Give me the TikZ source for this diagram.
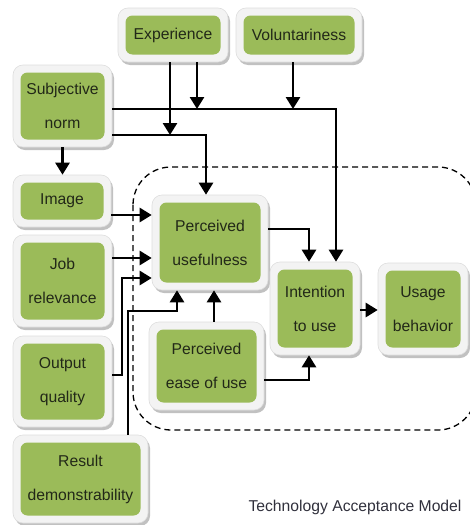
\documentclass[tikz,border=0pt]{standalone}
\usepackage{fontspec}
\setmainfont{Liberation Sans}
\usetikzlibrary{arrows.meta,shadows}
\definecolor{tamgreen}{HTML}{9BBB59}
\definecolor{tamframe}{HTML}{F3F3F3}
\definecolor{tamframeline}{HTML}{DDDDDD}
\definecolor{tamtext}{HTML}{222818}
\definecolor{tamcap}{HTML}{30303C}
\tikzset{
  tamouter/.style={fill=tamframe, draw=tamframeline, line width=0.6pt, rounded corners=10pt,
    inner sep=0pt, drop shadow={shadow xshift=2pt, shadow yshift=-3pt, fill=black!35, opacity=0.7}},
  tamin/.style={fill=tamgreen, rounded corners=7pt, inner sep=0pt, align=center,
    text=tamtext, font=\fontsize{15.7}{34}\selectfont},
  arr/.style={line width=2.7pt, -{Triangle[length=12pt,width=14pt]}},
  dashbox/.style={line width=1.3pt, dash pattern=on 6pt off 4pt, rounded corners=38pt},
}
\newcommand\tambox[6]{%
  \node[tamouter, minimum width=#4pt, minimum height=#5pt] (#1) at (#2,#3) {};
  \pgfmathsetmacro\tamiw{#4-15}\pgfmathsetmacro\tamih{#5-15}%
  \node[tamin, minimum width=\tamiw pt, minimum height=\tamih pt] (#1-in) at (#1) {#6};
}
\begin{document}
\begin{tikzpicture}[x=1pt,y=-1pt]
\useasboundingbox (0,0) rectangle (469,525);
\draw[dashbox] (133,167) rectangle (476,430);
\tambox{exp}{173}{35}{110}{54}{Experience}
\tambox{vol}{299}{35}{126}{54}{Voluntariness}
\tambox{sn}{62.5}{106}{99}{82}{Subjective\\norm}
\tambox{img}{62}{201}{98}{52}{Image}
\tambox{job}{62.5}{281}{99}{92}{Job\\relevance}
\tambox{oq}{62.5}{381.5}{99}{91}{Output\\quality}
\tambox{rd}{80.5}{479}{135}{88}{Result\\demonstrability}
\tambox{pu}{210}{242.5}{116}{95}{Perceived\\usefulness}
\tambox{peou}{206.5}{366}{115}{88}{Perceived\\ease of use}
\tambox{itu}{315}{308.5}{90}{93}{Intention\\to use}
\tambox{ub}{423}{309}{90}{92}{Usage\\behavior}
\node[text=tamcap, font=\fontsize{15.7}{18}\selectfont] (cap) at (355,507) {Technology Acceptance Model};
% junctions
\coordinate (jA) at (170,135);
\coordinate (jB) at (197,109);
\coordinate (jC) at (293,109);
\coordinate (k1) at (336,109);
\coordinate (k2) at (206,135);
\coordinate (m1) at (0,215);
\coordinate (m2) at (0,258);
\coordinate (m3) at (0,278);
\coordinate (oqa) at (122,375);
\coordinate (rda) at (128,311);
\coordinate (rdb) at (177,311);
\coordinate (pe) at (214,0);
\coordinate (pa) at (309,229);
\coordinate (pb) at (309,380);
\coordinate (ia) at (0,310);
% connectors
\draw[arr] (sn.east |- k1) -- (k1) -- (itu.north -| k1);
\draw[arr] (sn.east |- k2) -- (k2) -- (pu.north -| k2);
\draw[arr] (exp.south -| jA) -- (jA);
\draw[arr] (exp.south -| jB) -- (jB);
\draw[arr] (vol.south -| jC) -- (jC);
\draw[arr] (sn.south) -- (sn.south |- img.north);
\draw[arr] (img.east |- m1) -- (pu.west |- m1);
\draw[arr] (job.east |- m2) -- (pu.west |- m2);
\draw[arr] (oq.east |- oqa) -- (oqa) -- (oqa |- m3) -- (pu.west |- m3);
\draw[arr] (rd.north -| rda) -- (rda) -- (rdb) -- (pu.south -| rdb);
\draw[arr] (peou.north -| pe) -- (pu.south -| pe);
\draw[arr] (pu.east |- pa) -- (pa) -- (itu.north -| pa);
\draw[arr] (peou.east |- pb) -- (pb) -- (itu.south -| pb);
\draw[arr] (itu.east |- ia) -- (ub.west |- ia);
\end{tikzpicture}
\end{document}
